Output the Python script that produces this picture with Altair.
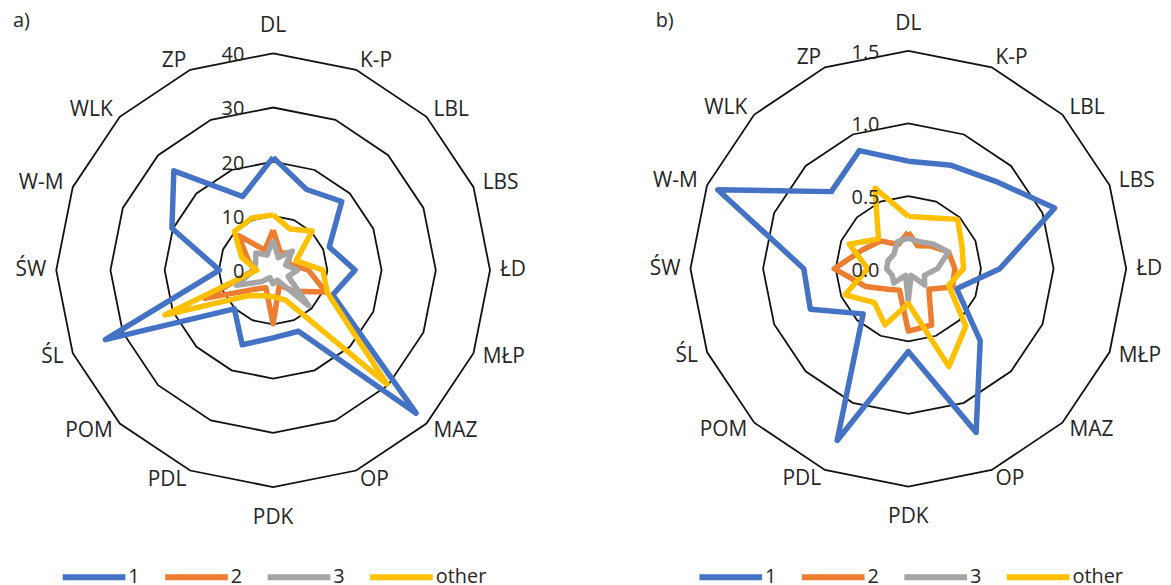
import math
import altair as alt
import pandas as pd

# ---------------- data ----------------
categories = ["DL", "K-P", "LBL", "LBS", "ŁD", "MŁP", "MAZ", "OP",
              "PDK", "PDL", "POM", "ŚL", "ŚW", "W-M", "WLK", "ZP"]
series_names = ["1", "2", "3", "other"]
series_colors = ["#4472C4", "#ED7D31", "#A5A5A5", "#FFC000"]

# panel a)
a_series_1 = [20.8, 16.1, 17.9, 11.2, 15.1, 11.9, 37.3, 12.2, 12.5, 14.9, 10.1, 33.5, 9.9, 20.2, 25.9, 14.7]
a_series_2 = [7.4, 3.5, 4.5, 3.0, 6.5, 10.5, 5.5, 3.0, 9.9, 3.5, 5.0, 13.6, 3.5, 5.0, 9.0, 4.0]
a_series_3 = [5.6, 2.5, 5.0, 2.5, 4.5, 3.0, 9.3, 2.0, 2.5, 1.5, 3.0, 7.3, 3.5, 3.5, 4.5, 3.0]
a_series_other = [10.2, 8.2, 10.2, 4.6, 9.2, 10.8, 29.7, 6.0, 4.9, 5.1, 6.7, 21.6, 3.0, 6.3, 10.1, 10.4]
a_ticks = [0, 10, 20, 30, 40]
a_tick_labels = ["0", "10", "20", "30", "40"]

# panel b)
b_series_1 = [0.74, 0.77, 0.85, 1.09, 0.63, 0.36, 0.70, 1.22, 0.57, 1.28, 0.44, 0.73, 0.72, 1.42, 0.75, 0.88]
b_series_2 = [0.25, 0.17, 0.22, 0.30, 0.32, 0.33, 0.20, 0.42, 0.43, 0.16, 0.20, 0.32, 0.51, 0.34, 0.27, 0.18]
b_series_3 = [0.21, 0.20, 0.24, 0.30, 0.20, 0.12, 0.16, 0.05, 0.22, 0.05, 0.14, 0.12, 0.15, 0.15, 0.14, 0.20]
b_series_other = [0.36, 0.38, 0.48, 0.40, 0.38, 0.30, 0.56, 0.73, 0.24, 0.42, 0.33, 0.47, 0.28, 0.44, 0.29, 0.60]
b_ticks = [0.0, 0.5, 1.0, 1.5]
b_tick_labels = ["0.0", "0.5", "1.0", "1.5"]

# ---------------- style ----------------
FONT = "Open Sans"
TEXT_COLOR = "#262626"
H = 565
LABEL_GAP = 10  # px between outer ring and category labels
LEG_SYMBOL = 63  # legend line length in px


def radar(tag, values_by_series, ticks, tick_labels, width, cx, cy, radius,
          tag_x, tag_y, legend_x, legend_cy):
    n = len(categories)
    rmax = ticks[-1]
    ppu = radius / rmax
    ang = [2 * math.pi * i / n for i in range(n)]
    xscale = alt.Scale(domain=[-cx / ppu, (width - cx) / ppu], nice=False, zero=False)
    yscale = alt.Scale(domain=[-(H - cy) / ppu, cy / ppu], nice=False, zero=False)

    def X():
        return alt.X("x:Q", scale=xscale, axis=None)

    def Y():
        return alt.Y("y:Q", scale=yscale, axis=None)

    # rings
    ring_rows = []
    for t in ticks:
        if t <= 0:
            continue
        for k in range(n + 1):
            a = ang[k % n]
            ring_rows.append({"ring": t, "k": k, "x": t * math.sin(a), "y": t * math.cos(a)})
    rings = alt.Chart(pd.DataFrame(ring_rows)).mark_line(
        color="#111111", strokeWidth=1.8
    ).encode(x=X(), y=Y(), detail="ring:N", order="k:Q")

    # series
    line_rows = []
    for s, vals in zip(series_names, values_by_series):
        for k in range(n + 1):
            i = k % n
            line_rows.append({"series": s, "k": k, "cat": categories[i], "value": vals[i],
                              "x": vals[i] * math.sin(ang[i]), "y": vals[i] * math.cos(ang[i])})
    lines = alt.Chart(pd.DataFrame(line_rows)).mark_line(
        strokeWidth=5.5, strokeJoin="round"
    ).encode(
        x=X(), y=Y(), order="k:Q",
        color=alt.Color(
            "series:N",
            sort=series_names,
            scale=alt.Scale(domain=series_names, range=series_colors),
            legend=alt.Legend(
                orient="none", legendX=legend_x, legendY=legend_cy - LEG_SYMBOL / 2,
                direction="horizontal", title=None,
                symbolType="stroke", symbolSize=LEG_SYMBOL ** 2, symbolStrokeWidth=6,
                labelFont=FONT, labelFontSize=20, labelColor=TEXT_COLOR,
                labelOffset=0, columnPadding=13, padding=0,
            ),
        ),
    )

    # category labels
    rl = rmax + LABEL_GAP / ppu
    lab_rows = []
    for i, c in enumerate(categories):
        if i == 0:
            grp = "top"
        elif i == n // 2:
            grp = "bottom"
        elif i < n // 2:
            grp = "left"
        else:
            grp = "right"
        lab_rows.append({"cat": c, "grp": grp, "x": rl * math.sin(ang[i]), "y": rl * math.cos(ang[i])})
    lab_df = pd.DataFrame(lab_rows)
    base_lab = alt.Chart(lab_df)
    text_kw = dict(font=FONT, fontSize=20, color=TEXT_COLOR)
    lab_kw = dict(font=FONT, fontSize=21, color=TEXT_COLOR)
    lab_layers = [
        base_lab.transform_filter(alt.datum.grp == "top").mark_text(align="center", baseline="bottom", dy=-7, **lab_kw),
        base_lab.transform_filter(alt.datum.grp == "bottom").mark_text(align="center", baseline="top", dy=10, **lab_kw),
        base_lab.transform_filter(alt.datum.grp == "left").mark_text(align="left", baseline="middle", **lab_kw),
        base_lab.transform_filter(alt.datum.grp == "right").mark_text(align="right", baseline="middle", **lab_kw),
    ]
    lab_layers = [l.encode(x=X(), y=Y(), text="cat:N") for l in lab_layers]

    # radial tick labels
    tick_df = pd.DataFrame({"v": ticks, "label": tick_labels, "x": [0.0] * len(ticks)})
    tick_text = alt.Chart(tick_df).mark_text(
        align="right", baseline="middle", dx=-29, dy=2, **text_kw
    ).encode(x=X(), y=alt.Y("v:Q", scale=yscale, axis=None), text="label:N")

    # panel tag a) / b)
    tag_text = alt.Chart(pd.DataFrame({"t": [tag]})).mark_text(
        align="left", baseline="middle", x=tag_x, y=tag_y, **text_kw
    ).encode(text="t:N")

    return alt.layer(rings, lines, *lab_layers, tick_text, tag_text).properties(
        width=width, height=H
    )


panel_a = radar("a)", [a_series_1, a_series_2, a_series_3, a_series_other],
                a_ticks, a_tick_labels, width=585, cx=266.5, cy=262.0, radius=218,
                tag_x=5, tag_y=12, legend_x=52, legend_cy=567.5)
panel_b = radar("b)", [b_series_1, b_series_2, b_series_3, b_series_other],
                b_ticks, b_tick_labels, width=570, cx=320, cy=260.5, radius=219,
                tag_x=66, tag_y=12, legend_x=107, legend_cy=567.5)

chart = alt.hconcat(panel_a, panel_b, spacing=0, bounds="flush").resolve_scale(
    color="independent", x="independent", y="independent"
).resolve_legend(color="independent").properties(
    padding=0, background="white"
).configure_view(stroke=None)

chart.save("out.html", embed_options={"renderer": "svg", "actions": False})
